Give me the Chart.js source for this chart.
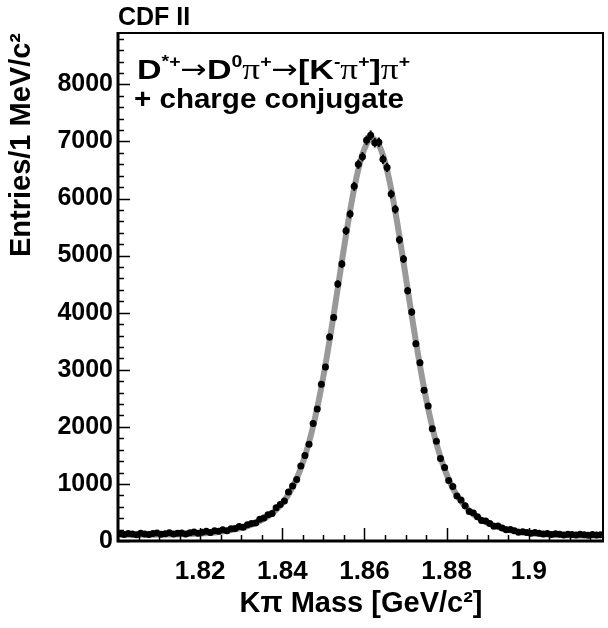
<!DOCTYPE html>
<html><head><meta charset="utf-8">
<script src="https://cdn.jsdelivr.net/npm/chart.js@4/dist/chart.umd.min.js"></script>
<style>html,body{margin:0;padding:0;background:#fff}#wrap{width:608px;height:628px}</style>
</head><body><div id="wrap"><canvas id="c" width="608" height="628"></canvas></div>
<script>
// ---- data ----
const binCenters = [
1.8005,1.8015,1.8025,1.8035,1.8045,1.8055,1.8065,1.8075,1.8085,1.8095,
1.8105,1.8115,1.8125,1.8135,1.8145,1.8155,1.8165,1.8175,1.8185,1.8195,
1.8205,1.8215,1.8225,1.8235,1.8245,1.8255,1.8265,1.8275,1.8285,1.8295,
1.8305,1.8315,1.8325,1.8335,1.8345,1.8355,1.8365,1.8375,1.8385,1.8395,
1.8405,1.8415,1.8425,1.8435,1.8445,1.8455,1.8465,1.8475,1.8485,1.8495,
1.8505,1.8515,1.8525,1.8535,1.8545,1.8555,1.8565,1.8575,1.8585,1.8595,
1.8605,1.8615,1.8625,1.8635,1.8645,1.8655,1.8665,1.8675,1.8685,1.8695,
1.8705,1.8715,1.8725,1.8735,1.8745,1.8755,1.8765,1.8775,1.8785,1.8795,
1.8805,1.8815,1.8825,1.8835,1.8845,1.8855,1.8865,1.8875,1.8885,1.8895,
1.8905,1.8915,1.8925,1.8935,1.8945,1.8955,1.8965,1.8975,1.8985,1.8995,
1.9005,1.9015,1.9025,1.9035,1.9045,1.9055,1.9065,1.9075,1.9085,1.9095,
1.9105,1.9115,1.9125,1.9135,1.9145,1.9155,1.9165,1.9175];

const entries = [
128,115,132,123,111,136,123,114,131,140,
118,129,144,122,135,142,124,143,157,136,
155,172,148,178,172,197,179,215,220,254,
240,286,305,314,380,402,461,481,583,640,
701,857,965,1079,1314,1500,1694,2058,2313,2748,
3049,3576,3916,4501,4855,5436,5727,6213,6600,6733,
7020,7108,6978,6985,6688,6545,6078,5812,5276,4940,
4386,4011,3456,3124,2643,2363,1968,1749,1445,1289,
1059,953,787,718,617,515,490,426,358,352,
306,259,262,228,195,203,181,153,164,147,
137,149,135,121,133,116,125,117,106,120,
113,103,118,108,102,113,103,111];

const fitCurve = [
110,110,110,110,110,111,111,111,111,112,
112,113,114,115,116,118,120,122,125,128,
132,137,143,150,158,167,177,190,204,220,
240,262,286,316,349,387,433,485,548,622,
711,817,943,1094,1274,1485,1729,2013,2333,2693,
3089,3516,3966,4431,4900,5356,5787,6178,6510,6773,
6955,7048,7033,6940,6758,6495,6163,5772,5341,4885,
4416,3951,3501,3074,2678,2318,1998,1714,1470,1259,
1079,928,802,696,607,533,470,418,372,334,
301,271,247,225,205,189,175,162,152,143,
135,128,122,117,113,110,107,105,103,101,
100,99,98,97,97,96,96,96];

const xTickValues = [1.82, 1.84, 1.86, 1.88, 1.9];
const xTickLabels = ['1.82', '1.84', '1.86', '1.88', '1.9'];
const yTickValues = [0, 1000, 2000, 3000, 4000, 5000, 6000, 7000, 8000];
const yTickLabels = ['0', '1000', '2000', '3000', '4000', '5000', '6000', '7000', '8000'];
const xMinorStep = 0.005;
const yMinorStep = 200;

const experimentLabel = 'CDF II';
const decayLine = [['D','n'],['*+','s'],['\u2192','a'],['D','n'],['0','s'],['\u03C0','p'],['+','s'],['\u2192','a'],['[K','n'],['-','s'],['\u03C0','p'],['+','s'],[']','n'],['\u03C0','p'],['+','s']];
const conjLine = [['+ charge conjugate','n']];
const xTitle = 'K\u03C0 Mass [GeV/c\u00B2]';
const yTitle = 'Entries/1 MeV/c\u00B2';

// ---- helpers ----
const FONTS = {
  n: 'bold 28px "Liberation Sans", Arial, sans-serif',
  s: 'bold 16px "Liberation Sans", Arial, sans-serif',
  p: '29px "Liberation Serif", serif',
  a: '26px "DejaVu Sans", sans-serif'
};
function drawRich(ctx, parts, x, base, targetW) {
  let total = 0;
  const widths = parts.map(([t, k]) => { ctx.font = FONTS[k]; const w = ctx.measureText(t).width; total += w; return w; });
  ctx.save();
  ctx.translate(x, base);
  ctx.scale(targetW / total, 1);
  ctx.fillStyle = '#000';
  ctx.textBaseline = 'alphabetic';
  ctx.textAlign = 'left';
  let cx = 0;
  parts.forEach(([t, k], i) => {
    ctx.font = FONTS[k];
    const dy = k === 's' ? -12 : (k === 'a' ? -1 : 0);
    ctx.fillText(t, cx, dy);
    cx += widths[i];
  });
  ctx.restore();
}

const decorPlugin = {
  id: 'decor',
  afterDatasetsDraw(chart) {
    const ctx = chart.ctx, xs = chart.scales.x, ys = chart.scales.y;
    ctx.save();
    ctx.strokeStyle = '#000';
    ctx.lineWidth = 2;
    entries.forEach((v, i) => {
      const px = xs.getPixelForValue(binCenters[i]);
      const e = Math.sqrt(v);
      ctx.beginPath();
      ctx.moveTo(px, ys.getPixelForValue(v - e));
      ctx.lineTo(px, ys.getPixelForValue(v + e));
      ctx.stroke();
    });
    ctx.restore();
  },
  afterDraw(chart) {
    const ctx = chart.ctx, a = chart.chartArea, xs = chart.scales.x, ys = chart.scales.y;
    ctx.save();
    ctx.strokeStyle = '#000';
    ctx.lineWidth = 2;
    ctx.beginPath();
    ctx.moveTo(a.left, a.top); ctx.lineTo(a.right - 1, a.top); ctx.lineTo(a.right - 1, a.bottom);
    ctx.stroke();
    ctx.lineWidth = 3;
    ctx.beginPath();
    ctx.moveTo(a.left, a.top - 1); ctx.lineTo(a.left, a.bottom); ctx.lineTo(a.right, a.bottom);
    ctx.stroke();
    ctx.lineWidth = 1.5;
    for (let v = xs.min; v <= xs.max + 1e-9; v += xMinorStep) {
      const major = xTickValues.some(t => Math.abs(t - v) < 1e-6);
      const px = Math.round(xs.getPixelForValue(v)) + 0.5;
      ctx.beginPath(); ctx.moveTo(px, a.bottom); ctx.lineTo(px, a.bottom - (major ? 13 : 6)); ctx.stroke();
    }
    for (let v = 0; v <= ys.max; v += yMinorStep) {
      const major = v % 1000 === 0;
      const py = Math.round(ys.getPixelForValue(v)) + 0.5;
      ctx.beginPath(); ctx.moveTo(a.left, py); ctx.lineTo(a.left + (major ? 12 : 6), py); ctx.stroke();
    }
    ctx.fillStyle = '#000';
    ctx.font = 'bold 25px "Liberation Sans", Arial, sans-serif';
    ctx.textBaseline = 'alphabetic';
    ctx.fillText(experimentLabel, 118, 25);
    drawRich(ctx, decayLine, 137, 79, 273);
    drawRich(ctx, conjLine, 134, 108, 270);
    ctx.restore();
  }
};

new Chart(document.getElementById('c'), {
  type: 'scatter',
  data: {
    datasets: [
      {
        type: 'line',
        data: binCenters.map((x, i) => ({x, y: fitCurve[i]})),
        borderColor: '#999999',
        borderWidth: 6,
        pointRadius: 0,
        fill: false,
        tension: 0.35,
        order: 2
      },
      {
        type: 'scatter',
        data: binCenters.map((x, i) => ({x, y: entries[i]})),
        backgroundColor: '#000',
        borderColor: '#000',
        pointRadius: 3.5,
        pointBorderWidth: 0,
        order: 1
      }
    ]
  },
  options: {
    responsive: false,
    animation: false,
    devicePixelRatio: 1,
    layout: {padding: {top: 33, right: 2, left: 0, bottom: 0}},
    plugins: {legend: {display: false}, tooltip: {enabled: false}},
    scales: {
      x: {
        type: 'linear', position: 'bottom', min: 1.8, max: 1.9183,
        afterBuildTicks: s => { s.ticks = xTickValues.map(v => ({value: v})); },
        afterFit: s => { s.height = 87; },
        grid: {display: false, drawTicks: false},
        border: {display: false},
        ticks: {
          autoSkip: false, maxRotation: 0, padding: 15, color: '#000',
          font: {family: '"Liberation Sans", Arial, sans-serif', size: 26, weight: 'bold'},
          callback: v => { const k = xTickValues.findIndex(t => Math.abs(t - v) < 1e-9); return k >= 0 ? xTickLabels[k] : ''; }
        },
        title: {
          display: true, text: xTitle, color: '#000', padding: {top: 0, bottom: 7},
          font: {family: '"Liberation Sans", Arial, sans-serif', size: 29, weight: 'bold'}
        }
      },
      y: {
        type: 'linear', position: 'left', min: 0, max: 8900,
        afterBuildTicks: s => { s.ticks = yTickValues.map(v => ({value: v})); },
        afterFit: s => { s.width = 118; },
        grid: {display: false, drawTicks: false},
        border: {display: false},
        ticks: {
          autoSkip: false, padding: 5, color: '#000',
          font: {family: '"Liberation Sans", Arial, sans-serif', size: 25, weight: 'bold'},
          callback: v => { const k = yTickValues.indexOf(v); return k >= 0 ? yTickLabels[k] : ''; }
        },
        title: {
          display: true, text: yTitle, color: '#000', align: 'end', padding: {top: 5, bottom: 0},
          font: {family: '"Liberation Sans", Arial, sans-serif', size: 29, weight: 'bold'}
        }
      }
    }
  },
  plugins: [decorPlugin]
});
</script>
</body></html>
